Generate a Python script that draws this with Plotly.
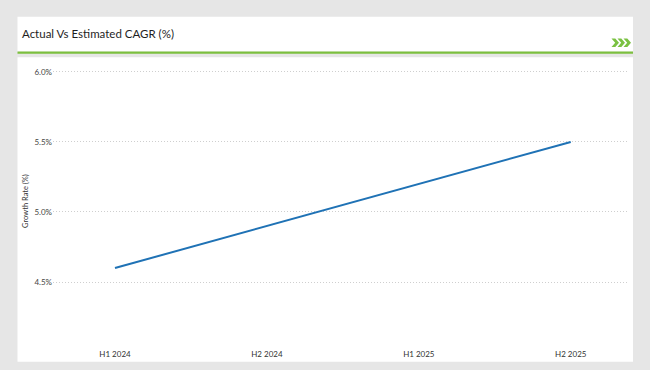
import plotly.graph_objects as go

periods = ["H1 2024", "H2 2024", "H1 2025", "H2 2025"]
growth_rate = [4.6, 4.9, 5.2, 5.5]
y_ticks = [4.5, 5.0, 5.5, 6.0]
y_tick_labels = ["4.5%", "5.0%", "5.5%", "6.0%"]

W, H = 650, 370
L, R, T, B = 53, 628, 62, 340
FONT = "Lato"


def px(x):
    return (x - L) / (R - L)


def py(y):
    return (B - y) / (B - T)


fig = go.Figure()
fig.add_trace(go.Scatter(
    x=periods, y=growth_rate, mode="lines",
    line=dict(color="#1f72b5", width=2),
    hoverinfo="x+y", showlegend=False,
))

shapes = []
# header card
shapes.append(dict(type="rect", xref="paper", yref="paper", layer="below",
                   x0=px(17.5), x1=px(633), y0=py(51.7), y1=py(16.7),
                   fillcolor="white", line=dict(width=0)))
# green rule
shapes.append(dict(type="rect", xref="paper", yref="paper", layer="below",
                   x0=px(17.5), x1=px(633), y0=py(53.7), y1=py(51.5),
                   fillcolor="#7cbf3f", line=dict(width=0)))
# chart card
shapes.append(dict(type="rect", xref="paper", yref="paper", layer="below",
                   x0=px(17.5), x1=px(633), y0=py(361.7), y1=py(57.3),
                   fillcolor="white", line=dict(width=0)))
# chevrons
for x0 in (611.5, 617.5, 623.5):
    top, bot, mid = 38.5, 47, 42.75
    pts = [(x0, top), (x0 + 3.8, top), (x0 + 7.5, mid), (x0 + 3.8, bot), (x0, bot), (x0 + 3.7, mid)]
    path = "M " + " L ".join(f"{px(a):.5f},{py(b):.5f}" for a, b in pts) + " Z"
    shapes.append(dict(type="path", xref="paper", yref="paper", path=path,
                       fillcolor="#7ac142", line=dict(width=0)))

fig.update_layout(
    width=W, height=H,
    margin=dict(l=L, r=W - R, t=T, b=H - B, pad=0),
    paper_bgcolor="#e6e6e6",
    plot_bgcolor="rgba(0,0,0,0)",
    font=dict(family=FONT, color="#444"),
    shapes=shapes,
    annotations=[dict(text="Actual Vs Estimated CAGR (%)", xref="paper", yref="paper",
                      x=px(20), y=py(33), xanchor="left", yanchor="middle",
                      showarrow=False, font=dict(family=FONT, size=11.5, color="#1e1e1e"))],
    xaxis=dict(type="category", range=[-0.408, 3.377], showgrid=False, zeroline=False,
               showline=False, ticks="outside", ticklen=6, tickcolor="rgba(0,0,0,0)",
               tickfont=dict(size=8, color="#333")),
    yaxis=dict(range=[4.086, 6.071], tickvals=y_ticks, ticktext=y_tick_labels,
               showgrid=True, gridcolor="#cfcfcf", griddash="1px,2px", gridwidth=1,
               zeroline=False, showline=False, ticks="", tickfont=dict(size=8, color="#444"),
               title=dict(text="Growth Rate (%)", font=dict(size=7.5, color="#333"), standoff=4)),
)

fig.write_html("out.html", config={"displayModeBar": False},
               post_script="document.body.style.margin='0';document.body.style.padding='0';")
